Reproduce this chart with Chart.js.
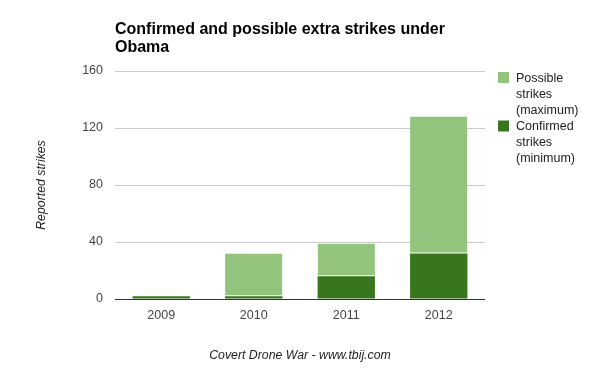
<!DOCTYPE html>
<html>
<head>
<meta charset="utf-8">
<script src="https://cdn.jsdelivr.net/npm/chart.js@4.4.0/dist/chart.umd.min.js"></script>
<style>
  html, body { margin: 0; padding: 0; background: #fff; }
  #wrap { width: 600px; height: 371px; }
</style>
</head>
<body>
<div id="wrap"><canvas id="chart" width="600" height="371"></canvas></div>
<script>
const years = ['2009', '2010', '2011', '2012'];
const confirmed = [2, 2, 16, 32];      // minimum
const possibleExtra = [0, 30, 23, 96]; // on top of confirmed
const yTicks = [0, 40, 80, 120, 160];
const chartTitle = ['Confirmed and possible extra strikes under', 'Obama'];

const FONT = "Arial, 'Liberation Sans', sans-serif";
const SMALL = 12.5;

// title drawn over the plot's left edge, like the original
const titlePlugin = {
  id: 'leftTitle',
  afterDraw(chart) {
    const ctx = chart.ctx;
    ctx.save();
    ctx.font = 'bold 16px ' + FONT;
    ctx.fillStyle = '#000';
    ctx.textBaseline = 'alphabetic';
    chartTitle.forEach((line, i) => ctx.fillText(line, chart.chartArea.left, 34 + i * 17.5));
    ctx.restore();
  }
};

// legend on the right, one word per line
const sideLegend = {
  id: 'sideLegend',
  afterDraw(chart) {
    const ctx = chart.ctx;
    const x = chart.chartArea.right + 13;
    let y = 72;
    ctx.save();
    ctx.font = SMALL + 'px ' + FONT;
    ctx.textBaseline = 'alphabetic';
    chart.data.datasets.slice().reverse().forEach(ds => {
      ctx.fillStyle = ds.backgroundColor;
      ctx.fillRect(x, y, 11, 11);
      ctx.fillStyle = '#222';
      ds.label.split(' ').forEach((w, i) => ctx.fillText(w, x + 18, y + 9.5 + i * 16));
      y += 48.5;
    });
    ctx.restore();
  }
};

new Chart(document.getElementById('chart'), {
  type: 'bar',
  data: {
    labels: years,
    datasets: [
      {
        label: 'Confirmed strikes (minimum)',
        data: confirmed,
        backgroundColor: '#38761d',
        borderWidth: 0
      },
      {
        label: 'Possible strikes (maximum)',
        data: possibleExtra,
        backgroundColor: '#93c47d',
        borderColor: '#ffffff',
        borderWidth: { top: 0, left: 0, right: 0, bottom: 1 },
        borderSkipped: false
      }
    ]
  },
  options: {
    responsive: false,
    animation: false,
    datasets: { bar: { barPercentage: 0.62, categoryPercentage: 1 } },
    layout: { padding: { top: 71, right: 115, left: 0, bottom: 0 } },
    plugins: {
      legend: { display: false },
      title: { display: false },
      tooltip: { enabled: false }
    },
    scales: {
      x: {
        stacked: true,
        grid: { display: false, drawTicks: false },
        border: { display: false },
        ticks: { color: '#444', font: { family: FONT, size: SMALL }, padding: 9 },
        title: {
          display: true,
          text: 'Covert Drone War - www.tbij.com',
          color: '#222',
          font: { family: FONT, size: 12.3, style: 'italic' },
          padding: { top: 0, bottom: 8 }
        },
        afterFit(scale) { scale.height = 72; }
      },
      y: {
        stacked: true,
        min: 0,
        max: 160,
        afterBuildTicks(scale) { scale.ticks = yTicks.map(v => ({ value: v })); },
        grid: {
          drawTicks: false,
          color: ctx => ctx.tick && ctx.tick.value === 0 ? '#333' : '#cccccc',
          lineWidth: 1
        },
        border: { display: false },
        ticks: { color: '#444', font: { family: FONT, size: SMALL }, padding: 12 },
        title: {
          display: true,
          text: 'Reported strikes',
          color: '#222',
          font: { family: FONT, size: 12.3, style: 'italic' },
          padding: { top: 34, bottom: 0 }
        },
        afterFit(scale) { scale.width = 115; }
      }
    }
  },
  plugins: [titlePlugin, sideLegend]
});
</script>
</body>
</html>
